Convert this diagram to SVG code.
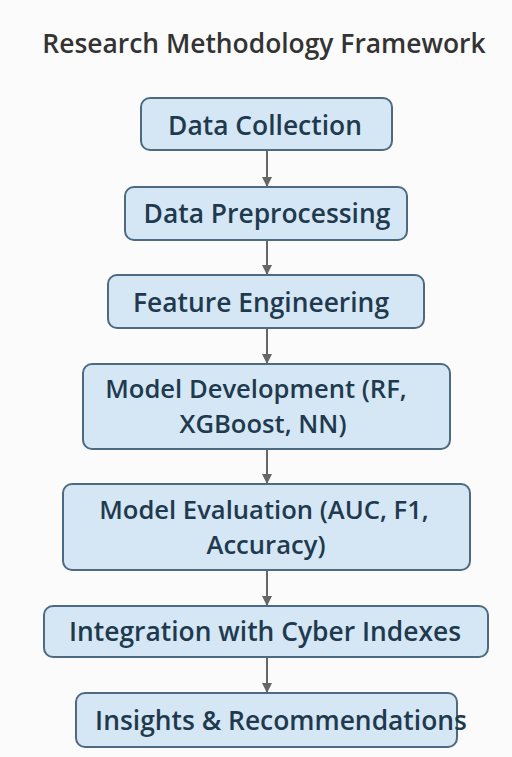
<svg xmlns="http://www.w3.org/2000/svg" width="512" height="757" viewBox="0 0 512 757">
<style>
.bg{fill:#fbfbfb}
.title{font-family:"Open Sans","Noto Sans",sans-serif;font-weight:600;font-size:26.4px;fill:#333333;text-anchor:middle}
.box{fill:#d5e7f4;stroke:#4d6a82;stroke-width:2}
.lbl{font-family:"Open Sans","Noto Sans",sans-serif;font-weight:600;font-size:26.4px;fill:#1f3a4f;text-anchor:middle}
.lbl2{font-size:25.6px}
.conn{stroke:#666666;stroke-width:2;fill:none}
</style>
<defs>
<marker id="arr" viewBox="0 0 10 10" refX="10" refY="5" markerWidth="5" markerHeight="5" orient="auto" markerUnits="strokeWidth">
<path d="M0,0 L10,5 L0,10 Z" fill="#666666"/>
</marker>
</defs>
<rect class="bg" x="0" y="0" width="512" height="757"/>
<text class="title" x="264" y="53">Research Methodology Framework</text>
<g id="connectors">
<line class="conn" x1="267" y1="150" x2="267" y2="187" marker-end="url(#arr)"/>
<line class="conn" x1="267" y1="240" x2="267" y2="275" marker-end="url(#arr)"/>
<line class="conn" x1="267" y1="328" x2="267" y2="364" marker-end="url(#arr)"/>
<line class="conn" x1="267" y1="449" x2="267" y2="484" marker-end="url(#arr)"/>
<line class="conn" x1="267" y1="570" x2="267" y2="606" marker-end="url(#arr)"/>
<line class="conn" x1="267" y1="657" x2="267" y2="693" marker-end="url(#arr)"/>
</g>
<g id="n1">
<rect class="box" x="141" y="98" width="251" height="52" rx="9"/>
<text class="lbl" x="265" y="135">Data Collection</text>
</g>
<g id="n2">
<rect class="box" x="125" y="187" width="282" height="53" rx="9"/>
<text class="lbl" x="267" y="223">Data Preprocessing</text>
</g>
<g id="n3">
<rect class="box" x="108" y="275" width="316" height="53" rx="9"/>
<text class="lbl" x="261" y="312">Feature Engineering</text>
</g>
<g id="n4">
<rect class="box" x="83" y="364" width="367" height="85" rx="9"/>
<text class="lbl lbl2" x="256" y="398">Model Development (RF,</text>
<text class="lbl lbl2" x="263" y="433">XGBoost, NN)</text>
</g>
<g id="n5">
<rect class="box" x="63" y="484" width="407" height="86" rx="9"/>
<text class="lbl lbl2" x="264" y="519">Model Evaluation (AUC, F1,</text>
<text class="lbl lbl2" x="266" y="554">Accuracy)</text>
</g>
<g id="n6">
<rect class="box" x="44" y="606" width="444" height="51" rx="9"/>
<text class="lbl" x="265" y="641">Integration with Cyber Indexes</text>
</g>
<g id="n7">
<rect class="box" x="76" y="693" width="381" height="54" rx="9"/>
<text class="lbl" x="281" y="730">Insights &amp; Recommendations</text>
</g>
</svg>
